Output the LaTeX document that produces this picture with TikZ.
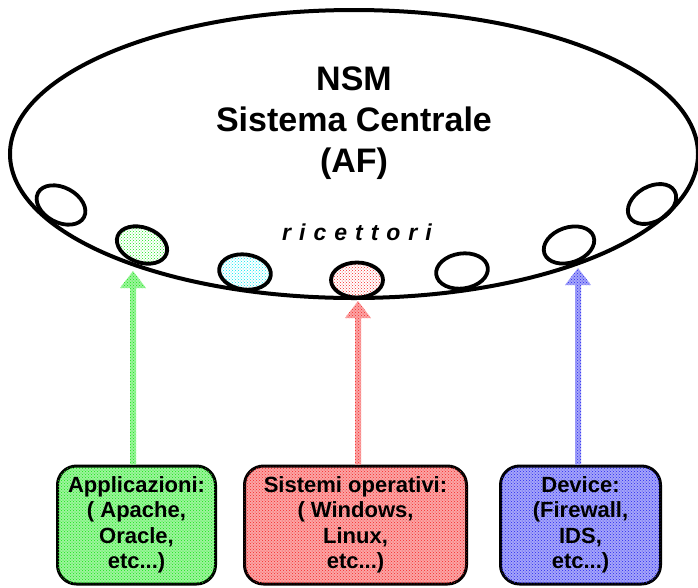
\documentclass[tikz,border=0pt]{standalone}
\usepackage{fontspec}
\setmainfont{Liberation Sans}
\usetikzlibrary{patterns,calc,shapes.geometric}

\definecolor{dotgreen}{RGB}{20,230,20}
\definecolor{dotred}{RGB}{245,40,40}
\definecolor{dotblue}{RGB}{40,40,240}
\definecolor{dotcyan}{RGB}{0,230,240}

\tikzset{
  receptor/.style={ellipse, draw=black, line width=3.8pt, minimum width=52pt,
    minimum height=35pt, inner sep=0pt},
  srcbox/.style={draw=black, line width=3pt, rounded corners=19pt, align=center,
    inner sep=0pt, font=\fontsize{22}{25.5}\selectfont\bfseries},
  dotted fill/.style={pattern=crosshatch dots, pattern color=#1},
  tinted/.style={fill=#1!42, postaction={pattern=crosshatch dots, pattern color=#1}},
}

% block arrow from #2 (base) up to #3 (tip), styled with #1
\newcommand\blockarrow[3]{%
  \path[#1] let \p1=(#2), \p2=(#3) in
    (\x2-3pt,\y1) -- (\x2-3pt,\y2-17pt) -- (\x2-13pt,\y2-17pt) -- (\x2,\y2)
    -- (\x2+13pt,\y2-17pt) -- (\x2+3pt,\y2-17pt) -- (\x2+3pt,\y1) -- cycle;}

\begin{document}
\begin{tikzpicture}[x=1pt,y=-1pt]
\useasboundingbox (0,0) rectangle (698,587);

% central system
\node[ellipse, draw=black, line width=4pt, minimum width=688pt, minimum height=288pt,
  inner sep=0pt] (core) at (354,154) {};
\node[align=center, font=\fontsize{34}{41}\selectfont\bfseries] (title) at (354,123)
  {NSM\\Sistema Centrale\\(AF)};
\node[font=\fontsize{23}{26}\selectfont\bfseries\itshape] (rlabel) at (357,232)
  {r\hspace{8pt}i\hspace{8pt}c\hspace{8pt}e\hspace{8pt}t\hspace{8pt}t\hspace{8pt}o\hspace{8pt}r\hspace{8pt}i};

% receptors along the lower rim
\node[receptor, rotate=-28] (r1) at (61,205) {};
\node[receptor, rotate=-20, dotted fill=dotgreen] (r2) at (142,245) {};
\node[receptor, rotate=-8, dotted fill=dotcyan] (r3) at (245,272) {};
\node[receptor, dotted fill=dotred] (r4) at (357,280) {};
\node[receptor, rotate=8] (r5) at (462,271) {};
\node[receptor, rotate=19] (r6) at (569,245) {};
\node[receptor, rotate=30] (r7) at (652,204) {};

% event sources
\node[srcbox, tinted=dotgreen, minimum width=158pt, minimum height=118pt] (gbox)
  at (136.5,525) {Applicazioni:\\( Apache,\\Oracle,\\etc...)};
\node[srcbox, tinted=dotred, minimum width=222pt, minimum height=118pt] (rbox)
  at (355.5,525) {Sistemi operativi:\\( Windows,\\Linux,\\etc...)};
\node[srcbox, tinted=dotblue, minimum width=160pt, minimum height=118pt] (bbox)
  at (580.5,525) {Device:\\(Firewall,\\IDS,\\etc...)};

% arrow tips just under the receptors
\coordinate (gtip) at (133,271);
\coordinate (rtip) at (358,301);
\coordinate (btip) at (578,268);

\blockarrow{tinted=dotgreen}{gbox.north}{gtip}
\blockarrow{tinted=dotred}{rbox.north}{rtip}
\blockarrow{tinted=dotblue}{bbox.north}{btip}
\end{tikzpicture}
\end{document}
